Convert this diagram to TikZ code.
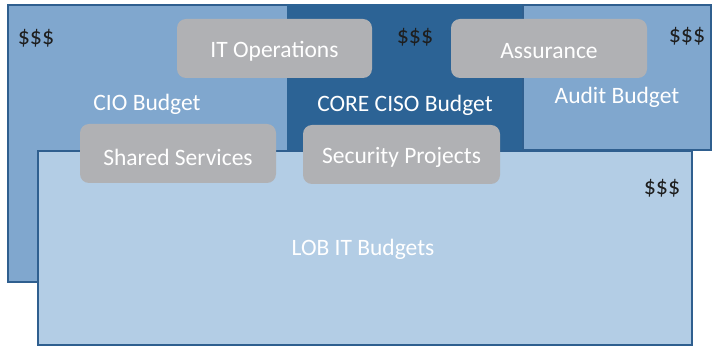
\documentclass[tikz,border=0pt]{standalone}
\usepackage{fontspec}
\setmainfont{Carlito}
\definecolor{lightb}{RGB}{128,167,206}
\definecolor{darkb}{RGB}{44,99,149}
\definecolor{lobb}{RGB}{179,205,229}
\definecolor{edgeb}{RGB}{47,95,143}
\definecolor{grayb}{RGB}{176,177,180}
\definecolor{dollar}{RGB}{30,30,30}
\begin{document}
\begin{tikzpicture}[x=1pt,y=-1pt,
  budget/.style={draw=edgeb,line width=2pt},
  pill/.style={fill=grayb,rounded corners=9pt,draw=none},
  lbl/.style={text=white,font=\fontsize{23.5}{26}\selectfont,inner sep=0pt},
  money/.style={text=dollar,font=\fontsize{24}{26}\selectfont,inner sep=0pt}]
\useasboundingbox (0,0) rectangle (713,347);
\fill[white] (0,0) rectangle (713,347);
% budget areas
\draw[budget,fill=lightb] (8,5) rectangle (288,282);
\draw[budget,draw=darkb,fill=darkb] (288,5) rectangle (523,150);
\draw[budget,fill=lightb] (523,5) rectangle (711,150);
\draw[budget,fill=lobb] (38,151) rectangle (692,345);
% gray pills
\fill[pill] (177,19) rectangle (372,78);
\fill[pill] (451,19) rectangle (647,78);
\fill[pill] (80,124) rectangle (276,183);
\fill[pill] (303,125) rectangle (500,184);
% labels
\node[lbl] (itops) at (274.5,51) {IT Operations};
\node[lbl] (assur) at (549,51) {Assurance};
\node[lbl] (shared) at (178,157) {Shared Services};
\node[lbl] (secproj) at (401.5,157) {Security Projects};
\node[lbl] (cio) at (147,104) {CIO Budget};
\node[lbl] (ciso) at (405,105) {CORE CISO Budget};
\node[lbl] (audit) at (617,97) {Audit Budget};
\node[lbl] (lob) at (363,249) {LOB IT Budgets};
\node[money] (d1) at (36,38) {\$\$\$};
\node[money] (d2) at (415,37) {\$\$\$};
\node[money] (d3) at (687,36) {\$\$\$};
\node[money] (d4) at (662,188) {\$\$\$};
\end{tikzpicture}
\end{document}
